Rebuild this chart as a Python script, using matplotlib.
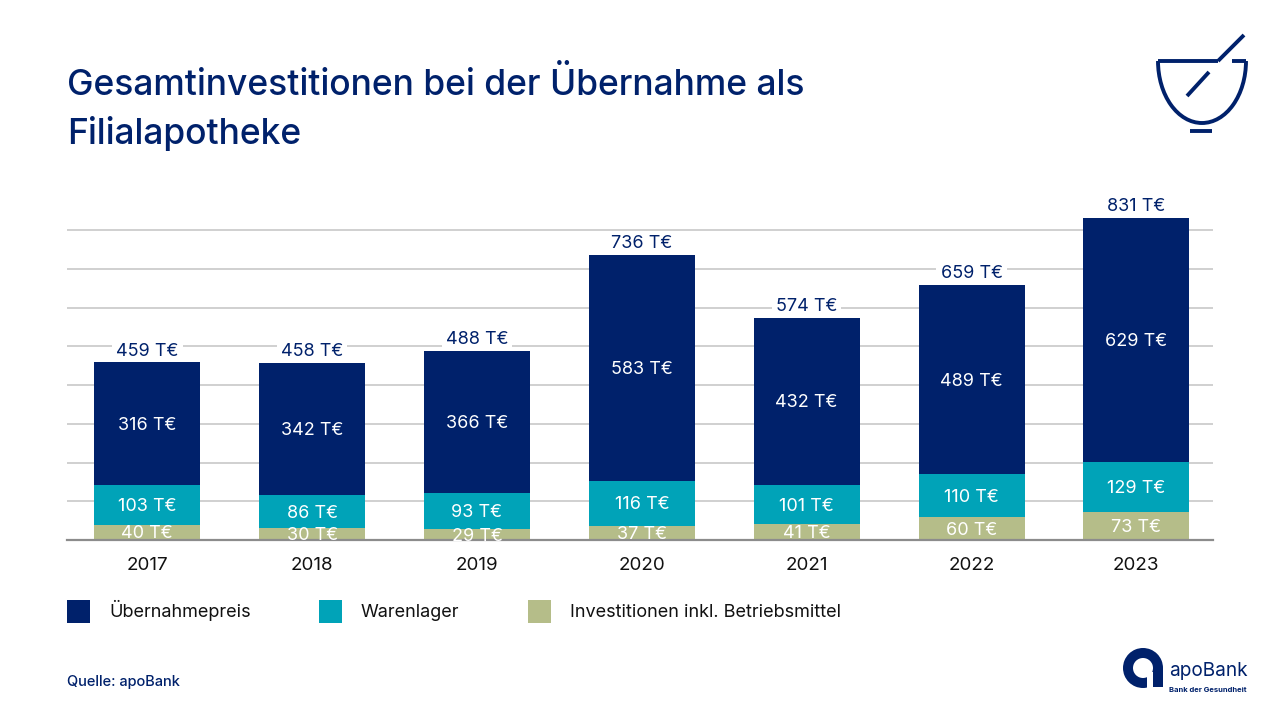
import matplotlib
matplotlib.use("Agg")
from matplotlib import pyplot as plt
from matplotlib.patches import Arc, Rectangle, Wedge
import numpy as np

years = ["2017", "2018", "2019", "2020", "2021", "2022", "2023"]
invest = [40, 30, 29, 37, 41, 60, 73]
lager = [103, 86, 93, 116, 101, 110, 129]
preis = [316, 342, 366, 583, 432, 489, 629]
totals = [459, 458, 488, 736, 574, 659, 831]

NAVY = "#00216b"
TEAL = "#00a3b8"
KHAKI = "#b5bd89"
FONT = "Inter"

plt.rcParams["font.family"] = FONT

W, H = 1280, 720
fig = plt.figure(figsize=(12.8, 7.2), dpi=100)

# main chart, placed in pixels
ax = fig.add_axes([67 / W, (720 - 540) / H, (1213 - 67) / W, 350 / H])
ax.set_xlim(-0.487, 6.465)
ax.set_ylim(0, 350 / 0.3875)
ax.set_yticks(np.arange(100, 900, 100))
ax.tick_params(left=False, labelleft=False, bottom=False, pad=8.5)
ax.set_xticks(range(len(years)), years, fontsize=13.5, color="#111111")
ax.grid(axis="y", color="#c4c4c4", lw=1.1)
ax.set_axisbelow(True)
for s in ["top", "left", "right"]:
    ax.spines[s].set_visible(False)
ax.spines["bottom"].set_color("#8c8c8c")
ax.spines["bottom"].set_linewidth(1.6)

x = np.arange(len(years))
b1 = ax.bar(x, invest, 0.643, color=KHAKI)
b2 = ax.bar(x, lager, 0.643, bottom=invest, color=TEAL)
b3 = ax.bar(x, preis, 0.643, bottom=np.add(invest, lager), color=NAVY)

for bars in (b1, b2, b3):
    ax.bar_label(bars, fmt="%d T€", label_type="center", color="white",
                 fontsize=13, padding=-1.2)

# zorder under the bars, so the white box only cuts the gridlines
for i, t in enumerate(totals):
    ax.annotate(f"{t} T€", (i, t), xytext=(0, 8), textcoords="offset points",
                ha="center", va="center", color=NAVY, fontsize=13, zorder=0.9,
                bbox=dict(fc="white", ec="none", pad=3))

# overlay for title, legend and logos, y counted from the top
ov = fig.add_axes([0, 0, 1, 1], facecolor="none")
ov.set_xlim(0, W)
ov.set_ylim(H, 0)
ov.axis("off")

ov.text(67, 95, "Gesamtinvestitionen bei der Übernahme als", fontsize=25.5,
        color=NAVY, va="baseline", fontweight="medium")
ov.text(67, 144, "Filialapotheke", fontsize=25.5, color=NAVY, va="baseline",
        fontweight="medium")

legend_names = ["Übernahmepreis", "Warenlager", "Investitionen inkl. Betriebsmittel"]
legend_cols = [NAVY, TEAL, KHAKI]
legend_x = [67, 319, 528]
for lx, name, col in zip(legend_x, legend_names, legend_cols):
    ov.add_patch(Rectangle((lx, 600), 23, 23, fc=col, ec="none"))
    ov.text(lx + 42, 617, name, fontsize=13, va="baseline", color="#111111")

ov.text(67, 686, "Quelle: apoBank", fontsize=10.5, va="baseline", color=NAVY,
        fontweight="medium")

# mortar icon
lw = 2.8
ov.plot([1158, 1218], [61, 61], color=NAVY, lw=lw, solid_capstyle="butt")
ov.plot([1232, 1246], [61, 61], color=NAVY, lw=lw, solid_capstyle="butt")
ov.plot([1218, 1244], [61, 35], color=NAVY, lw=lw, solid_capstyle="butt")
ov.plot([1187, 1209], [96, 72], color=NAVY, lw=lw, solid_capstyle="butt")
ov.plot([1190, 1212], [131, 131], color=NAVY, lw=lw, solid_capstyle="butt")
ov.add_patch(Arc((1202, 61), 88, 124, theta1=0, theta2=180, color=NAVY, lw=lw))

# apoBank logo
ov.add_patch(Wedge((1143, 668), 20, 0, 360, width=10, fc=NAVY, ec="none"))
ov.add_patch(Rectangle((1153, 668), 10, 19, fc=NAVY, ec="none"))
ov.add_patch(Rectangle((1147, 672), 6, 17, fc="white", ec="none"))
ov.text(1169, 676, "apoBank", fontsize=13.7, color=NAVY, va="baseline")
ov.text(1169, 692, "Bank der Gesundheit", fontsize=5.5, color=NAVY, va="baseline",
        fontweight="bold")

fig.savefig("out.png", dpi=100)
